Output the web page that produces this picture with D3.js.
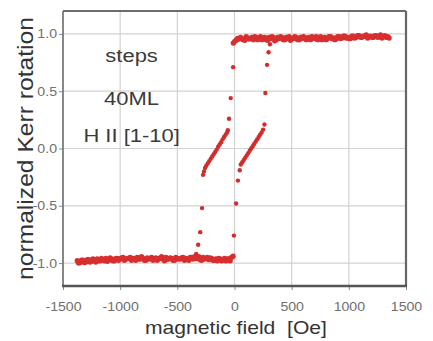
<!DOCTYPE html>
<html>
<head>
<meta charset="utf-8">
<script src="https://cdn.jsdelivr.net/npm/d3@7"></script>
<style>
    body{margin:0;background:#fff;}
    svg{display:block;font-family:"Liberation Sans",Arial,sans-serif;}
</style>
</head>
<body>
<svg id="chart" width="433" height="341"></svg>
<script>
// tick values / labels
const xTicks = [-1500,-1000,-500,0,500,1000,1500];
const xTickLabels = ["-1500","-1000","-500","0","500","1000","1500"];
const yTicks = [-1,-0.5,0,0.5,1];
const yTickLabels = ["-1.0","-0.5","0.0","0.5","1.0"];

// saturated branch, negative field (two sweeps overlapping)
const lowerH = [-1375,-1350,-1325,-1300,-1275,-1250,-1225,-1200,-1175,-1150,
    -1125,-1100,-1075,-1050,-1025,-1000,-975,-950,-925,-900,
    -875,-850,-825,-800,-775,-750,-725,-700,-675,-650,
    -625,-600,-575,-550,-525,-500,-475,-450,-425,-400,
    -375,-350,-325,-300,-275,-250,-225,-200,-175,-150,
    -125,-100,-75,-50,-25];
const lowerM1 = [-0.980,-0.995,-0.975,-0.990,-0.970,-0.985,-0.975,-0.965,-0.980,-0.970,
    -0.960,-0.975,-0.965,-0.980,-0.960,-0.965,-0.950,-0.965,-0.960,-0.975,
    -0.960,-0.950,-0.965,-0.960,-0.975,-0.965,-0.950,-0.965,-0.975,-0.960,
    -0.965,-0.950,-0.965,-0.960,-0.975,-0.960,-0.965,-0.950,-0.960,-0.975,
    -0.950,-0.945,-0.960,-0.970,-0.950,-0.960,-0.970,-0.960,-0.975,-0.980,
    -0.965,-0.975,-0.980,-0.965,-0.950];
const lowerM2 = [-1.000,-0.975,-0.995,-0.970,-0.990,-0.965,-0.990,-0.980,-0.960,-0.980,
    -0.985,-0.955,-0.980,-0.960,-0.975,-0.955,-0.975,-0.960,-0.950,-0.960,
    -0.975,-0.965,-0.945,-0.975,-0.955,-0.960,-0.975,-0.955,-0.960,-0.945,
    -0.980,-0.965,-0.955,-0.975,-0.950,-0.965,-0.955,-0.975,-0.965,-0.950,
    -0.965,-0.960,-0.945,-0.975,-0.965,-0.950,-0.955,-0.975,-0.965,-0.960,
    -0.980,-0.960,-0.965,-0.980,-0.940];

// saturated branch, positive field
const upperH = [-10,15,40,65,90,115,140,165,190,215,
    240,265,290,315,340,365,390,415,440,465,
    490,515,540,565,590,615,640,665,690,715,
    740,765,790,815,840,865,890,915,940,965,
    990,1015,1040,1065,1090,1115,1140,1165,1190,1215,
    1240,1265,1290,1315,1340];
const upperM1 = [0.920,0.945,0.955,0.960,0.945,0.965,0.960,0.950,0.970,0.960,
    0.950,0.970,0.945,0.960,0.970,0.950,0.960,0.970,0.950,0.960,
    0.945,0.960,0.970,0.950,0.960,0.970,0.960,0.950,0.970,0.975,
    0.960,0.950,0.970,0.960,0.975,0.965,0.955,0.975,0.965,0.980,
    0.970,0.960,0.980,0.970,0.985,0.970,0.980,0.965,0.980,0.970,
    0.985,0.975,0.965,0.985,0.975];
const upperM2 = [0.935,0.960,0.970,0.950,0.975,0.955,0.970,0.975,0.950,0.975,
    0.965,0.950,0.970,0.975,0.940,0.970,0.975,0.950,0.970,0.975,
    0.960,0.975,0.950,0.970,0.975,0.950,0.970,0.975,0.960,0.950,
    0.975,0.965,0.950,0.975,0.960,0.950,0.975,0.960,0.980,0.965,
    0.960,0.980,0.965,0.985,0.970,0.980,0.990,0.975,0.970,0.985,
    0.970,0.990,0.975,0.970,0.965];

// switching branches
const downH = [-12,-33,-48,-58,-65,-78,-91,-104,-117,-130,-143,-156,-169,-182,-195,-208,-221,-234,-247,-258,-267,-275,-284,-300,-318,-335];
const downM = [0.71,0.44,0.26,0.16,0.14,0.12,0.10,0.08,0.055,0.035,0.015,-0.01,-0.03,-0.05,-0.07,-0.09,-0.11,-0.13,-0.15,-0.17,-0.20,-0.23,-0.52,-0.73,-0.84,-0.92];
const upH = [-5,14,30,46,55,68,81,94,107,120,133,146,159,172,185,198,211,224,237,250,262,270,285,298,310];
const upM = [-0.76,-0.48,-0.28,-0.19,-0.14,-0.12,-0.10,-0.08,-0.06,-0.04,-0.02,0.0,0.02,0.04,0.06,0.08,0.10,0.12,0.14,0.165,0.21,0.485,0.73,0.84,0.91];

const notes = [{t:"steps",h:-900,m:0.757},{t:"40ML",h:-900,m:0.378},{t:"H II [1-10]",h:-900,m:0.058}];

const W = 433, H = 341;
const margin = {top:11,right:27,bottom:55,left:63};
const svg = d3.select('#chart');

const x = d3.scaleLinear().domain([-1500,1500]).range([margin.left, W-margin.right]);
const y = d3.scaleLinear().domain([-1.2,1.2]).range([H-margin.bottom, margin.top]);

function stretch(sel,k){
    sel.each(function(){
        let w = this.getComputedTextLength();
        this.setAttribute('textLength', w*k);
        this.setAttribute('lengthAdjust','spacingAndGlyphs');
    });
}

// grid
svg.append('g').selectAll('line').data(xTicks.slice(1,-1)).enter().append('line')
    .attr('x1',d=>x(d)).attr('x2',d=>x(d)).attr('y1',y(1.2)).attr('y2',y(-1.2))
    .attr('stroke','#d2d2d2').attr('stroke-width',1.2);
svg.append('g').selectAll('line').data(yTicks).enter().append('line')
    .attr('x1',x(-1500)).attr('x2',x(1500)).attr('y1',d=>y(d)).attr('y2',d=>y(d))
    .attr('stroke','#d2d2d2').attr('stroke-width',1.2);

// axes
let gy = svg.append('g').attr('transform',`translate(${x(-1500)},0)`)
    .call(d3.axisLeft(y).tickValues(yTicks).tickFormat((d,i)=>yTickLabels[i]).tickSize(4).tickPadding(2));
let gx = svg.append('g').attr('transform',`translate(0,${y(-1.2)})`)
    .call(d3.axisBottom(x).tickValues(xTicks).tickFormat((d,i)=>xTickLabels[i]).tickSize(4).tickPadding(12));
[gx,gy].forEach(g=>{
    g.select('.domain').remove();
    g.selectAll('line').attr('stroke','#888');
    g.selectAll('text').attr('font-size',12.5).attr('fill','#707070').attr('font-family','"Liberation Sans",Arial,sans-serif');
    stretch(g.selectAll('text'),1.13);
});

// frame
const frame = svg.append('g').attr('fill','none');
frame.append('line').attr('x1',x(-1500)).attr('x2',x(1500)).attr('y1',y(1.2)).attr('y2',y(1.2)).attr('stroke','#3c3c3c').attr('stroke-width',1.6);
frame.append('line').attr('x1',x(1500)).attr('x2',x(1500)).attr('y1',y(1.2)).attr('y2',y(-1.2)).attr('stroke','#666').attr('stroke-width',2.2);
frame.append('line').attr('x1',x(-1500)).attr('x2',x(-1500)).attr('y1',y(1.2)).attr('y2',y(-1.2)).attr('stroke','#7a7a7a').attr('stroke-width',1.8);
frame.append('line').attr('x1',x(-1500)-1).attr('x2',x(1500)+1).attr('y1',y(-1.2)).attr('y2',y(-1.2)).attr('stroke','#555').attr('stroke-width',2.6);

// data: plateaus drawn a bit heavier than the switching points
const band = [];
lowerH.forEach((h,i)=>{ band.push([h,lowerM1[i]]); band.push([h+12,lowerM2[i]]); });
upperH.forEach((h,i)=>{ band.push([h,upperM1[i]]); band.push([h+12,upperM2[i]]); });
const sw = [];
downH.forEach((h,i)=>sw.push([h,downM[i]]));
upH.forEach((h,i)=>sw.push([h,upM[i]]));

svg.append('g').selectAll('circle').data(band).enter().append('circle')
    .attr('cx',d=>x(d[0])).attr('cy',d=>y(d[1])).attr('r',2.7)
    .attr('fill','#d72f2f');
svg.append('g').selectAll('circle').data(sw).enter().append('circle')
    .attr('cx',d=>x(d[0])).attr('cy',d=>y(d[1])).attr('r',2.2)
    .attr('fill','#d22c2c');

// annotations
svg.append('g').selectAll('text').data(notes).enter().append('text')
    .attr('x',d=>x(d.h)).attr('y',d=>y(d.m))
    .attr('text-anchor','middle').attr('font-size',18).attr('fill','#3a3a3a')
    .text(d=>d.t)
    .call(s=>stretch(s,1.22));

// axis titles
svg.append('text')
    .attr('x',236).attr('y',334)
    .attr('text-anchor','middle').attr('font-size',19).attr('fill','#333')
    .style('white-space','pre')
    .text('magnetic field  [Oe]')
    .attr('textLength',182).attr('lengthAdjust','spacingAndGlyphs');
svg.append('text')
    .attr('transform','translate(33,148.5) rotate(-90)')
    .attr('text-anchor','middle').attr('font-size',22).attr('fill','#333')
    .text('normalized Kerr rotation')
    .attr('textLength',263).attr('lengthAdjust','spacingAndGlyphs');
</script>
</body>
</html>
